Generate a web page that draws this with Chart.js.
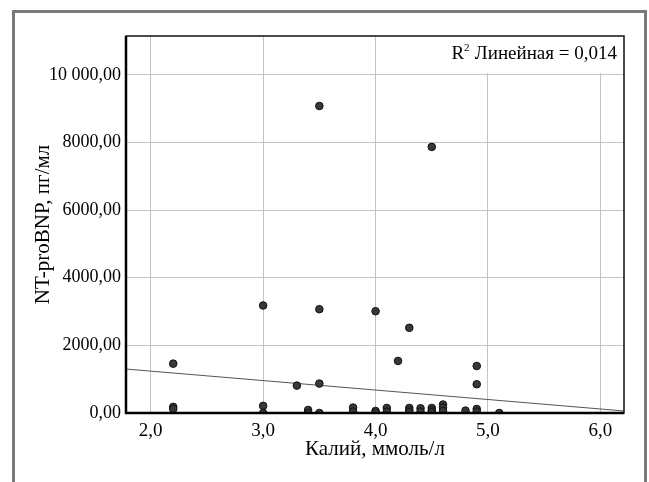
<!DOCTYPE html>
<html>
<head>
<meta charset="utf-8">
<script src="https://cdn.jsdelivr.net/npm/chart.js@4/dist/chart.umd.min.js"></script>
<style>
    body { margin: 0; background: #fff; overflow: hidden; }
    #frame { position: absolute; left: 12px; top: 10px; width: 629px; height: 520px; border: 3px solid #7a7a7a; }
    #chart { position: absolute; left: 0; top: 0; }
</style>
</head>
<body>
<div id="frame"></div>
<canvas id="chart" width="649" height="482"></canvas>
<script>
// Калий (ммоль/л) и NT-proBNP (пг/мл)
var kalium = [2.2, 2.2, 2.2, 3.0, 3.0, 3.0, 3.3, 3.4, 3.4, 3.5, 3.5, 3.5, 3.5, 3.8, 3.8,
    4.0, 4.0, 4.0, 4.1, 4.1, 4.2, 4.3, 4.3, 4.3, 4.3, 4.4, 4.4, 4.5, 4.5, 4.5, 4.5,
    4.6, 4.6, 4.6, 4.8, 4.9, 4.9, 4.9, 4.9, 5.1];
var ntprobnp = [1460, 180, 120, 3180, 210, 0, 810, 90, 0, 9080, 3070, 870, 0, 160, 40,
    3010, 60, 10, 150, 40, 1540, 2520, 150, 80, 20, 140, 40, 7870, 150, 80, 20,
    250, 160, 60, 70, 1390, 850, 120, 40, 0];

// линия регрессии (R² = 0,014)
var fitX = [1.78, 6.21];
var fitY = [1300, 60];

var xTicks = [2, 3, 4, 5, 6];
var xTickLabels = ['2,0', '3,0', '4,0', '5,0', '6,0'];
var yTicks = [0, 2000, 4000, 6000, 8000, 10000];
var yTickLabels = ['0,00', '2000,00', '4000,00', '6000,00', '8000,00', '10 000,00'];

var fontFamily = '"Liberation Serif", "Times New Roman", serif';

var boxPlugin = {
    id: 'boxPlugin',
    beforeDatasetsDraw: function (chart) {
        var ctx = chart.ctx, a = chart.chartArea;
        ctx.save();
        // подложка под подпись R²
        ctx.fillStyle = '#fff';
        ctx.fillRect(440, a.top + 1, a.right - 441, 36);
        ctx.fillStyle = '#000';
        ctx.font = '19px ' + fontFamily;
        ctx.textAlign = 'right';
        ctx.textBaseline = 'alphabetic';
        var txt = ' Линейная = 0,014';
        var w = ctx.measureText(txt).width;
        ctx.fillText(txt, a.right - 7, a.top + 23);
        ctx.fillText('R', a.right - 7 - w - 6, a.top + 23);
        ctx.font = '11px ' + fontFamily;
        ctx.textAlign = 'left';
        ctx.fillText('2', a.right - 7 - w - 6, a.top + 15);
        ctx.restore();
    },
    afterDraw: function (chart) {
        var ctx = chart.ctx, a = chart.chartArea;
        ctx.save();
        ctx.strokeStyle = '#111';
        ctx.lineWidth = 1.5;
        ctx.strokeRect(a.left, a.top, a.right - a.left, a.bottom - a.top);
        ctx.lineWidth = 2.5;
        ctx.strokeStyle = '#000';
        ctx.beginPath();
        ctx.moveTo(a.left, a.top);
        ctx.lineTo(a.left, a.bottom);
        ctx.lineTo(a.right, a.bottom);
        ctx.stroke();
        ctx.restore();
    }
};

var ctx = document.getElementById('chart').getContext('2d');
new Chart(ctx, {
    type: 'scatter',
    data: {
        datasets: [{
            label: 'points',
            data: kalium.map(function (k, i) { return { x: k, y: ntprobnp[i] }; }),
            pointRadius: 3.8,
            pointBackgroundColor: '#383838',
            pointBorderColor: '#111',
            pointBorderWidth: 1,
            order: 0
        }, {
            type: 'line',
            label: 'fit',
            data: fitX.map(function (x, i) { return { x: x, y: fitY[i] }; }),
            borderColor: '#555',
            borderWidth: 1,
            pointRadius: 0,
            fill: false,
            order: 1
        }]
    },
    options: {
        responsive: false,
        animation: false,
        layout: { padding: { left: 0, top: 36, right: 25, bottom: 0 } },
        plugins: { legend: { display: false }, tooltip: { enabled: false } },
        scales: {
            x: {
                type: 'linear',
                min: 1.78,
                max: 6.21,
                afterBuildTicks: function (s) { s.ticks = xTicks.map(function (v) { return { value: v }; }); },
                afterFit: function (s) { s.height = 69; },
                grid: { color: '#c4c4c4', lineWidth: 1, drawTicks: false },
                border: { display: false },
                ticks: {
                    padding: 7,
                    color: '#000',
                    font: { family: fontFamily, size: 19 },
                    callback: function (v, i) { return xTickLabels[i]; }
                },
                title: {
                    display: true,
                    text: 'Калий, ммоль/л',
                    color: '#000',
                    font: { family: fontFamily, size: 21 },
                    padding: { top: 0, bottom: 20 }
                }
            },
            y: {
                type: 'linear',
                min: 0,
                max: 11150,
                afterBuildTicks: function (s) { s.ticks = yTicks.map(function (v) { return { value: v }; }); },
                afterFit: function (s) { s.width = 126; },
                grid: { color: '#c4c4c4', lineWidth: 1, drawTicks: false },
                border: { display: false },
                ticks: {
                    padding: 5,
                    color: '#000',
                    font: { family: fontFamily, size: 18 },
                    callback: function (v, i) { return yTickLabels[i]; }
                },
                title: {
                    display: true,
                    text: 'NT-proBNP, пг/мл',
                    color: '#000',
                    font: { family: fontFamily, size: 21 },
                    padding: { top: 31, bottom: 0 }
                }
            }
        }
    },
    plugins: [boxPlugin]
});
</script>
</body>
</html>
